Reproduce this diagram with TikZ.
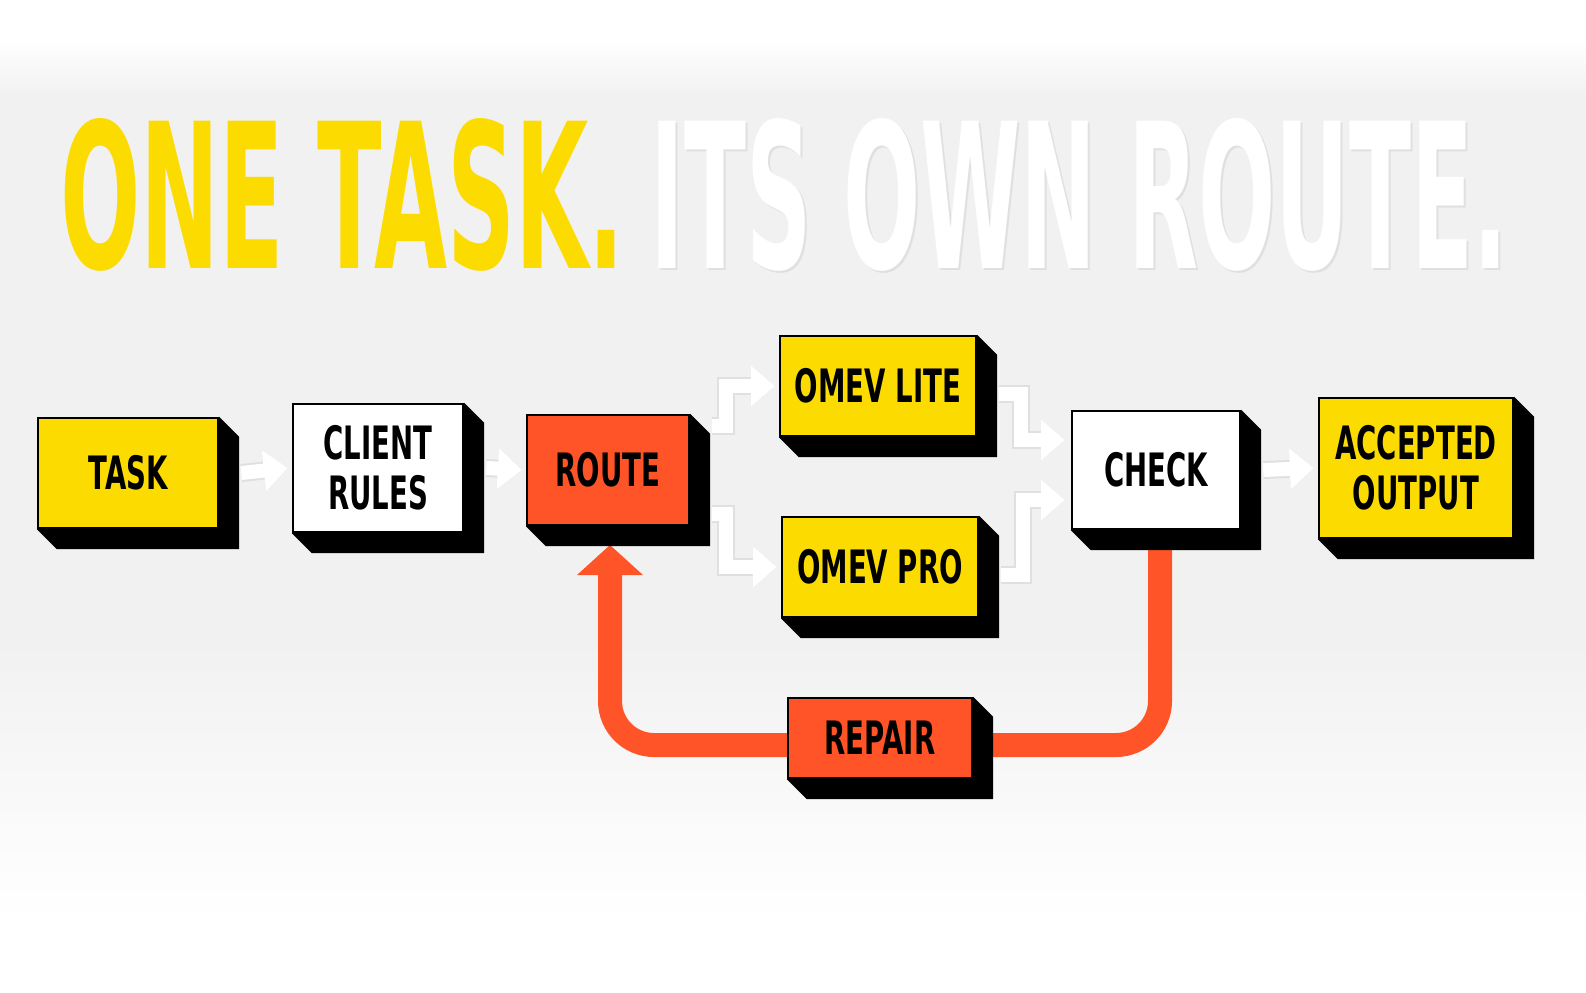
\documentclass[tikz,border=0pt]{standalone}
\usepackage{fontspec}
\setmainfont{DejaVu Sans}
\usetikzlibrary{positioning,calc,arrows.meta}

\definecolor{omyellow}{HTML}{FCDC00}
\definecolor{omred}{HTML}{FF5427}
\definecolor{bggray}{HTML}{F1F1F1}

\tikzset{
  blk/.style={draw=black, line width=1.2pt, inner sep=0pt, align=center,
    font=\bfseries\fontsize{23}{25}\selectfont},
  flow/.style={line width=7pt, white, preaction={draw=black!12, line width=9pt},
    -{Triangle[width=20pt,length=12pt]}},
  loop/.style={line width=12pt, omred, rounded corners=22pt},
}
\newcommand{\cond}[1]{\scalebox{0.6}[1]{#1}}
\newcommand{\extrude}[1]{%
  \fill[black] (#1.north east) -- ++(20,20) -- ($(#1.south east)+(20,20)$)
    -- ($(#1.south west)+(20,20)$) -- (#1.south west) -- (#1.south east) -- cycle;}

\begin{document}
\begin{tikzpicture}[x=0.5pt,y=-0.5pt]
  \useasboundingbox (0,0) rectangle (1586,992);
  % background
  \fill[white] (0,0) rectangle (1586,992);
  \shade[top color=white, bottom color=bggray] (0,40) rectangle (1586,95);
  \fill[bggray] (0,95) rectangle (1586,640);
  \shade[top color=bggray, bottom color=white] (0,640) rectangle (1586,920);

  % title
  \node[anchor=south west, inner sep=0pt, text=omyellow] (ttla) at (60,272)
    {\resizebox{282pt}{75pt}{\bfseries ONE TASK.}};
  \node[anchor=south west, inner sep=0pt, text=black!12] at (652,274)
    {\resizebox{429pt}{75pt}{\bfseries ITS OWN ROUTE.}};
  \node[anchor=south west, inner sep=0pt, text=white] (ttlb) at (650,272)
    {\resizebox{429pt}{75pt}{\bfseries ITS OWN ROUTE.}};

  % red repair loop
  \coordinate (lpA) at (1160,745);
  \coordinate (lpB) at (610,745);
  \draw[loop] (1160,550) -- (lpA) -- (880,745);
  \draw[loop] (880,745) -- (lpB) -- (610,570);
  \fill[omred] (577,575) -- (610,545) -- (643,575) -- cycle;

  % boxes
  \node[blk, fill=omyellow, minimum width=90pt, minimum height=55pt] (task) at (128,473) {\cond{TASK}};
  \node[blk, fill=white, minimum width=85pt, minimum height=64pt] (rules) at (378,468) {\cond{CLIENT}\\\cond{RULES}};
  \node[blk, fill=omred, minimum width=81pt, minimum height=55pt] (route) at (608,470) {\cond{ROUTE}};
  \node[blk, fill=omyellow, minimum width=98pt, minimum height=50pt] (lite) at (878,386) {\cond{OMEV LITE}};
  \node[blk, fill=omyellow, minimum width=98pt, minimum height=50pt] (pro) at (880,567) {\cond{OMEV PRO}};
  \node[blk, fill=white, minimum width=84pt, minimum height=59pt] (check) at (1156,470) {\cond{CHECK}};
  \node[blk, fill=omyellow, minimum width=97pt, minimum height=70pt] (accept) at (1416,468) {\cond{ACCEPTED}\\\cond{OUTPUT}};
  \node[blk, fill=omred, minimum width=92pt, minimum height=40pt] (repair) at (880,738) {\cond{REPAIR}};
  \foreach \n in {task,rules,route,lite,pro,check,accept,repair} {\extrude{\n}}

  % flow arrows
  \draw[flow] ($(task.east)+(22,0)$) -- ($(rules.west)+(-4,0)$);
  \draw[flow] ($(rules.east)+(22,0)$) -- ($(route.west)+(-4,0)$);
  \draw[flow] ($(route.north east)+(22,12)$) -- ++(14,0) |- ($(lite.west)+(-4,0)$);
  \draw[flow] ($(route.south east)+(22,-12)$) -- ++(14,0) |- ($(pro.west)+(-4,0)$);
  \draw[flow] ($(lite.east)+(22,8)$) -- ++(22,0) |- ($(check.west)+(-6,-30)$);
  \draw[flow] ($(pro.east)+(22,8)$) -- ++(22,0) |- ($(check.west)+(-6,30)$);
  \draw[flow] ($(check.east)+(22,0)$) -- ($(accept.west)+(-4,0)$);
\end{tikzpicture}
\end{document}
